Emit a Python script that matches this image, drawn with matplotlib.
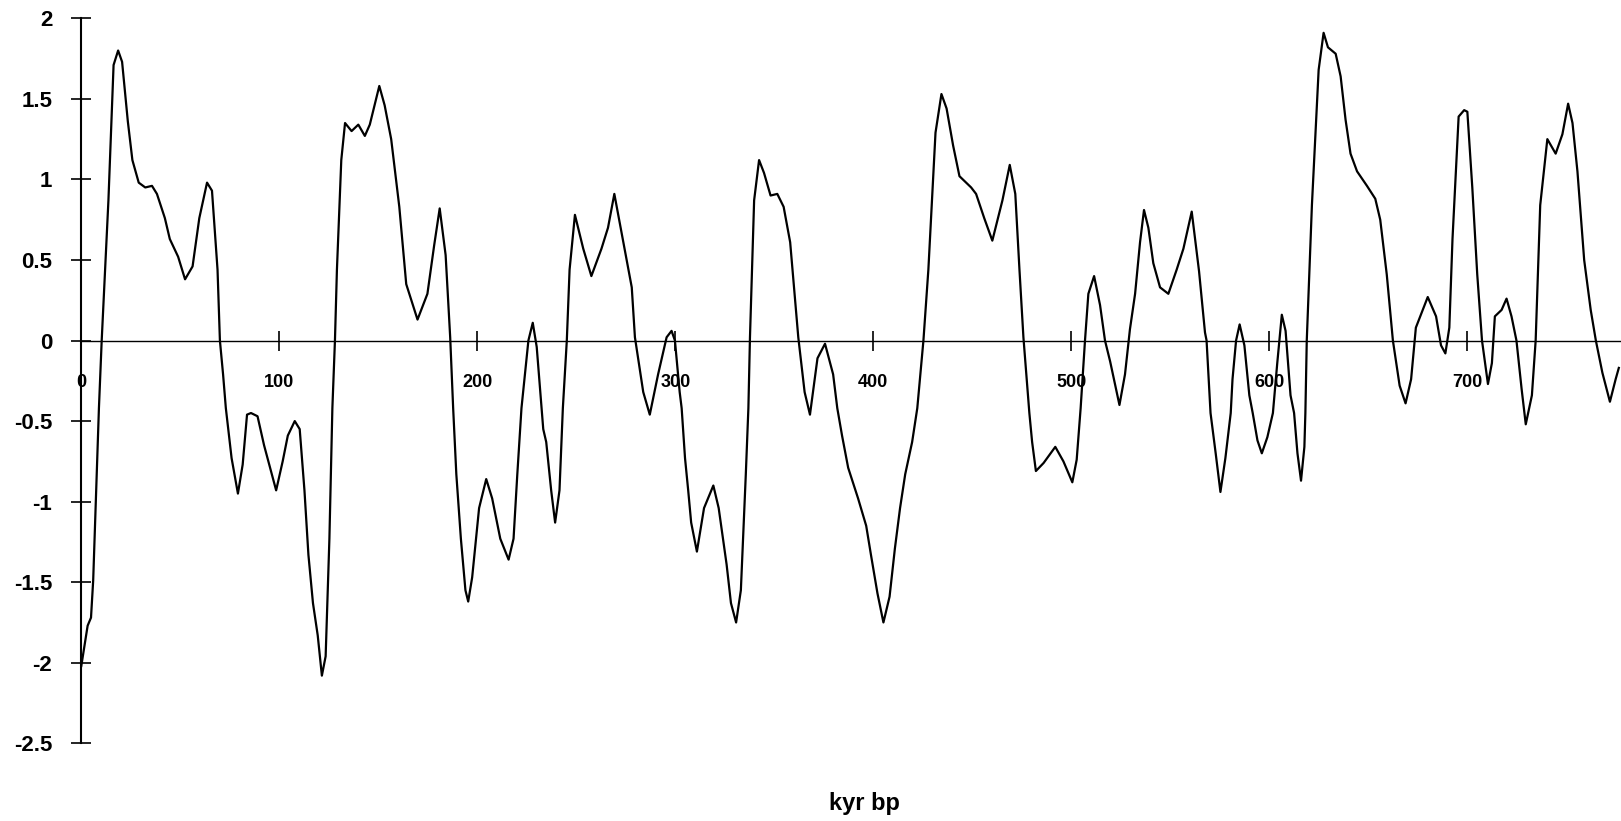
import matplotlib
matplotlib.use('Agg')
import matplotlib.pyplot as plt

plt.rcParams['font.family'] = ['Liberation Sans', 'DejaVu Sans']

# age (kyr bp) and normalised value
kyr = [0, 3.2, 4.9, 6.0, 8.9, 10.3, 13.7, 16.3, 18.6, 20.6, 23.5, 25.8, 29.0, 32.3, 35.7,
       38.2, 42.2, 44.7, 48.9, 52.4, 56.2, 59.6, 63.5, 66.0, 68.8, 70.0, 71.6, 73.0, 75.9,
       79.1, 81.5, 83.7, 85.7, 89.0, 92.3, 98.4, 101.7, 104.3, 107.8, 110.3, 112.7, 114.7,
       117.0, 119.4, 121.5, 123.4, 125.3, 126.8, 128.1, 129.1, 131.3, 133.2, 136.5, 139.9,
       143.2, 145.7, 150.5, 153.2, 156.5, 160.6, 161.7, 164.1, 169.8, 174.8, 178.2, 181.0,
       184.0, 186.3, 187.8, 189.4, 191.7, 194.0, 195.4, 197.4, 200.9, 204.5, 207.5, 211.6,
       215.8, 218.3, 220.2, 222.3, 225.8, 228.0, 230.0, 233.3, 234.8, 237.3, 239.3, 241.5,
       243.2, 245.2, 246.6, 249.3, 253.5, 257.6, 262.7, 266.0, 269.2, 273.0, 278.0, 279.6,
       283.8, 287.1, 291.3, 295.6, 298.1, 299.8, 302.2, 303.2, 304.9, 306.5, 308.0, 310.9,
       314.5, 319.2, 321.9, 325.9, 328.1, 330.7, 333.1, 335.6, 336.9, 337.7, 339.8, 342.3,
       344.8, 348.1, 351.5, 354.7, 358.0, 362.1, 365.3, 368.0, 371.8, 375.6, 379.7, 381.8,
       384.2, 387.3, 392.3, 396.4, 398.8, 402.1, 405.1, 408.2, 410.9, 413.5, 416.1, 419.6,
       422.2, 425.3, 427.8, 431.4, 434.4, 437.0, 440.3, 443.5, 449.4, 451.9, 456.0, 460.1,
       465.2, 468.9, 471.7, 473.8, 475.8, 478.0, 478.8, 480.2, 482.1, 486.0, 491.9, 496.0,
       500.5, 502.7, 504.7, 506.9, 508.6, 511.5, 514.5, 517.0, 519.6, 524.3, 527.1, 529.6,
       532.2, 534.7, 536.7, 538.9, 541.4, 544.8, 549.0, 553.2, 556.6, 560.8, 564.5, 567.5,
       568.3, 570.3, 572.9, 575.3, 577.8, 580.5, 581.4, 583.2, 585.0, 587.4, 589.9, 591.6,
       594.0, 596.2, 599.0, 601.8, 604.0, 606.3, 608.2, 610.7, 612.5, 614.2, 616.0, 617.7,
       618.2, 618.9, 621.5, 624.9, 627.4, 629.6, 633.5, 636.0, 638.5, 641.0, 644.3, 649.3,
       653.5, 656.0, 659.3, 662.4, 665.8, 668.8, 671.6, 674.0, 680.0, 684.2, 686.7, 688.9,
       690.9, 692.5, 695.6, 698.4, 700.0, 702.5, 705.0, 707.4, 710.4, 712.4, 713.9, 717.3,
       719.8, 722.3, 724.8, 727.4, 729.5, 732.6, 734.5, 736.8, 740.4, 744.6, 748.0, 750.9,
       753.1, 755.6, 759.0, 762.3, 764.9, 768.2, 772.0, 774.9, 776.5]
value = [-2.02, -1.77, -1.72, -1.49, -0.42, 0.0, 0.87, 1.71, 1.80, 1.73, 1.36, 1.12, 0.98, 0.95, 0.96,
         0.91, 0.76, 0.63, 0.52, 0.38, 0.46, 0.76, 0.98, 0.93, 0.44, 0.0, -0.21, -0.42, -0.73,
         -0.95, -0.77, -0.46, -0.45, -0.47, -0.65, -0.93, -0.75, -0.59, -0.50, -0.55, -0.93, -1.33,
         -1.63, -1.83, -2.08, -1.96, -1.23, -0.42, 0.0, 0.44, 1.12, 1.35, 1.30, 1.34,
         1.27, 1.34, 1.58, 1.46, 1.25, 0.83, 0.68, 0.35, 0.13, 0.29, 0.59, 0.82,
         0.53, 0.02, -0.42, -0.83, -1.23, -1.55, -1.62, -1.47, -1.04, -0.86, -0.98, -1.23,
         -1.36, -1.23, -0.83, -0.42, 0.0, 0.11, -0.04, -0.55, -0.63, -0.93, -1.13, -0.93,
         -0.42, 0.0, 0.44, 0.78, 0.57, 0.40, 0.57, 0.70, 0.91, 0.66, 0.33, 0.02,
         -0.32, -0.46, -0.21, 0.02, 0.06, 0.0, -0.32, -0.42, -0.73, -0.93, -1.13, -1.31,
         -1.04, -0.90, -1.04, -1.39, -1.63, -1.75, -1.55, -0.83, -0.42, 0.02, 0.87, 1.12,
         1.04, 0.90, 0.91, 0.83, 0.61, 0.02, -0.32, -0.46, -0.11, -0.02, -0.21, -0.42,
         -0.59, -0.79, -0.98, -1.15, -1.33, -1.57, -1.75, -1.59, -1.29, -1.04, -0.83, -0.63,
         -0.42, 0.0, 0.44, 1.29, 1.53, 1.44, 1.21, 1.02, 0.95, 0.91, 0.76, 0.62,
         0.87, 1.09, 0.91, 0.44, 0.02, -0.32, -0.45, -0.63, -0.81, -0.76, -0.66, -0.75,
         -0.88, -0.74, -0.42, 0.0, 0.29, 0.40, 0.22, 0.0, -0.13, -0.40, -0.21, 0.07,
         0.29, 0.61, 0.81, 0.70, 0.48, 0.33, 0.29, 0.44, 0.57, 0.80, 0.43, 0.05,
         0.0, -0.45, -0.70, -0.94, -0.73, -0.45, -0.24, 0.0, 0.10, -0.03, -0.34, -0.45,
         -0.62, -0.70, -0.60, -0.45, -0.14, 0.16, 0.06, -0.34, -0.45, -0.70, -0.87, -0.66,
         -0.45, 0.0, 0.84, 1.68, 1.91, 1.82, 1.78, 1.64, 1.37, 1.16, 1.05, 0.96,
         0.88, 0.75, 0.41, 0.0, -0.28, -0.39, -0.24, 0.08, 0.27, 0.15, -0.03, -0.08,
         0.08, 0.63, 1.39, 1.43, 1.42, 0.95, 0.41, 0.0, -0.27, -0.14, 0.15, 0.19,
         0.26, 0.15, 0.0, -0.30, -0.52, -0.34, 0.0, 0.84, 1.25, 1.16, 1.28, 1.47,
         1.35, 1.05, 0.50, 0.19, 0.0, -0.20, -0.38, -0.24, -0.17]

x_ticks = [0, 100, 200, 300, 400, 500, 600, 700]
x_labels = ['0', '100', '200', '300', '400', '500', '600', '700']
y_ticks = [2, 1.5, 1, 0.5, 0, -0.5, -1, -1.5, -2, -2.5]
y_labels = ['2', '1.5', '1', '0.5', '0', '-0.5', '-1', '-1.5', '-2', '-2.5']

W, H = 1621, 821
fig = plt.figure(figsize=(W / 100, H / 100), dpi=100)
ax = fig.add_axes([81.3 / W, 1 - 743.3 / H, 1 - 81.3 / W, (743.3 - 18.3) / H])

ax.plot(kyr, value, color='black', lw=1.6)

ax.set_xlim(0, 777.6)
ax.set_ylim(-2.5, 2)

ax.spines['top'].set_visible(False)
ax.spines['right'].set_visible(False)
ax.spines['bottom'].set_position(('data', 0))
ax.spines['bottom'].set_linewidth(1.0)
ax.spines['left'].set_linewidth(1.5)

ax.set_xticks(x_ticks)
ax.set_xticklabels(x_labels, fontweight='bold')
ax.set_yticks(y_ticks)
ax.set_yticklabels(y_labels, fontweight='bold')
ax.tick_params(axis='x', direction='inout', length=14, width=1.2, pad=17, labelsize=13)
ax.tick_params(axis='y', direction='inout', length=14, width=1.2, pad=14, labelsize=16)

fig.text(864 / W, 1 - 810 / H, 'kyr bp', ha='center', va='baseline',
         fontsize=17, fontweight='bold')

fig.savefig('out.png', dpi=100)
